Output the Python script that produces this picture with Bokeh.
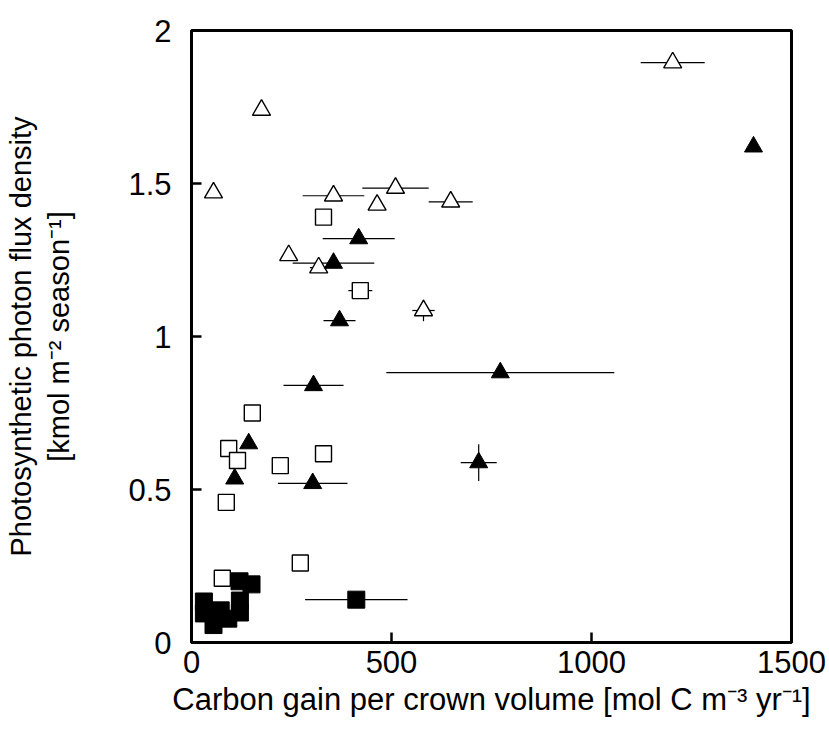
import numpy as np
from bokeh.plotting import figure
from bokeh.models import ColumnDataSource, FixedTicker
from bokeh.embed import file_html
from bokeh.resources import INLINE

# ---------------- data ----------------
# open triangles
otri_x    = [55, 175, 243, 318, 355, 464, 510, 580, 648, 1203]
otri_y    = [1.47, 1.74, 1.265, 1.225, 1.46, 1.43, 1.485, 1.085, 1.44, 1.895]
otri_xerr = [0, 0, 0, 22, 77, 0, 83, 28, 55, 80]
otri_yerr = [0, 0, 0, 0, 0, 0, 0, 0.035, 0, 0]

# filled triangles
ftri_x    = [108, 143, 303, 305, 355, 370, 418, 718, 772, 1405]
ftri_y    = [0.535, 0.65, 0.52, 0.84, 1.24, 1.052, 1.32, 0.588, 0.882, 1.62]
ftri_xerr = [0, 0, 87, 75, 102, 40, 90, 45, 285, 0]
ftri_yerr = [0, 0, 0, 0, 0, 0, 0, 0.06, 0, 0]

# open squares
osq_x    = [77, 87, 93, 115, 152, 222, 272, 330, 330, 422]
osq_y    = [0.21, 0.458, 0.634, 0.595, 0.75, 0.578, 0.26, 0.617, 1.39, 1.15]
osq_xerr = [0, 0, 0, 0, 0, 0, 10, 0, 0, 30]
osq_yerr = [0, 0, 0, 0, 0, 0, 0, 0, 0, 0]

# filled squares
fsq_x    = [120, 150, 31, 31, 55, 92, 73, 121, 121, 412]
fsq_y    = [0.20, 0.19, 0.134, 0.095, 0.057, 0.078, 0.105, 0.137, 0.098, 0.14]
fsq_xerr = [0, 0, 0, 0, 0, 0, 0, 0, 0, 128]
fsq_yerr = [0, 0, 0, 0, 0, 0, 0, 0, 0, 0]

x_ticks = [0, 500, 1000, 1500]
y_ticks = [0, 0.5, 1, 1.5, 2]
y_tick_labels = ["0", "0.5", "1", "1.5", "2"]

x_title = "Carbon gain per crown volume [mol C m\u207b\u00b3 yr\u207b\u00b9]"
y_title = "Photosynthetic photon flux density\n[kmol m\u207b\u00b2 season\u207b\u00b9]"

# ---------------- layout ----------------
FONT = "Liberation Sans"
FS = 31
W, H = 829, 740
FL, FR, FT, FB = 191, 791, 30, 642

p = figure(width=W, height=H, x_range=(0, 1500), y_range=(0, 2),
           output_backend="svg", toolbar_location=None,
           min_border_left=FL, min_border_right=W - FR,
           min_border_top=FT, min_border_bottom=H - FB)
p.background_fill_color = "white"
p.border_fill_color = "white"
p.grid.visible = False
p.outline_line_color = "black"
p.outline_line_width = 3
p.outline_line_alpha = 1

for ax in (p.xaxis[0], p.yaxis[0]):
    ax.axis_line_width = 3
    ax.axis_line_color = "black"
    ax.major_tick_line_width = 2.5
    ax.major_tick_line_color = "black"
    ax.major_tick_in = 10
    ax.major_tick_out = 0
    ax.minor_tick_in = 0
    ax.minor_tick_out = 0
    ax.major_label_text_font = FONT
    ax.major_label_text_font_size = f"{FS}px"
    ax.major_label_text_color = "black"
    ax.axis_label_text_font = FONT
    ax.axis_label_text_font_style = "normal"
    ax.axis_label_text_color = "black"

p.xaxis.axis_label_text_font_size = f"{FS}px"
p.yaxis.axis_label_text_font_size = "29px"

p.xaxis.ticker = FixedTicker(ticks=x_ticks)
p.yaxis.ticker = FixedTicker(ticks=y_ticks)
p.yaxis.major_label_overrides = {t: l for t, l in zip(y_ticks, y_tick_labels)}
p.xaxis.major_label_standoff = 8
p.yaxis.major_label_standoff = 20

p.xaxis.axis_label = x_title
p.yaxis.axis_label = y_title
p.xaxis.axis_label_standoff = 6
p.yaxis.axis_label_standoff = 50

# ---------------- error bars ----------------
seg = dict(x0=[], x1=[], y0=[], y1=[])
for xs, ys, xe, ye in [(fsq_x, fsq_y, fsq_xerr, fsq_yerr), (osq_x, osq_y, osq_xerr, osq_yerr),
                       (otri_x, otri_y, otri_xerr, otri_yerr), (ftri_x, ftri_y, ftri_xerr, ftri_yerr)]:
    xs, ys, xe, ye = map(lambda a: np.asarray(a, float), (xs, ys, xe, ye))
    m = xe > 0
    seg["x0"] += list(xs[m] - xe[m]); seg["x1"] += list(xs[m] + xe[m])
    seg["y0"] += list(ys[m]); seg["y1"] += list(ys[m])
    m = ye > 0
    seg["x0"] += list(xs[m]); seg["x1"] += list(xs[m])
    seg["y0"] += list(ys[m] - ye[m]); seg["y1"] += list(ys[m] + ye[m])
p.segment("x0", "y0", "x1", "y1", source=ColumnDataSource(seg), line_color="black", line_width=1.2)

# ---------------- markers ----------------
p.scatter(fsq_x, fsq_y, marker="square", size=17, fill_color="black", line_color="black", line_width=1)
p.scatter(osq_x, osq_y, marker="square", size=16, fill_color="white", line_color="black", line_width=1.4)
p.scatter(otri_x, otri_y, marker="triangle", size=18, fill_color="white", line_color="black", line_width=1.4)
p.scatter(ftri_x, ftri_y, marker="triangle", size=18, fill_color="black", line_color="black", line_width=1)

open("out.html", "w").write(file_html(p, INLINE))
